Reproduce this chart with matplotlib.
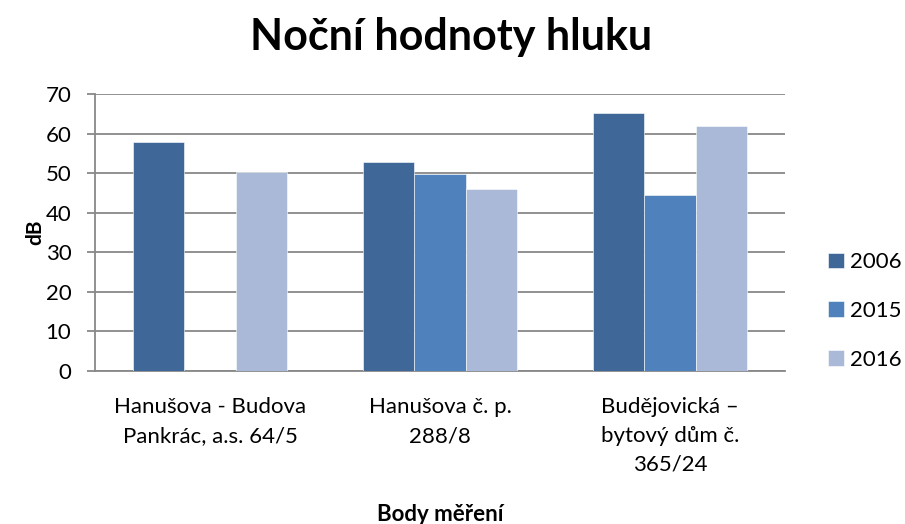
import numpy as np
import matplotlib.pyplot as plt

plt.rcParams['font.family'] = ['Lato', 'DejaVu Sans']

categories = ["Hanušova - Budova\nPankrác, a.s. 64/5",
              "Hanušova č. p.\n288/8",
              "Budějovická –\nbytový dům č.\n365/24"]
series = ["2006", "2015", "2016"]
v2006 = [57.8, 52.8, 65.1]
v2015 = [np.nan, 49.9, 44.4]
v2016 = [50.4, 46.1, 61.8]
colors = ["#3F6899", "#4F81BD", "#AAB9D7"]

fig = plt.figure(figsize=(9.05, 5.24), dpi=100)
ax = fig.add_axes([0.105, 0.292, 0.7624, 0.5286])

x = np.arange(len(categories))
w = 0.222
for i, (vals, lab) in enumerate(zip([v2006, v2015, v2016], series)):
    ax.bar(x + (i - 1) * w, vals, width=w, color=colors[i], label=lab,
           edgecolor="white", linewidth=0.4, zorder=3)

ax.set_xlim(-0.5, 2.5)
ax.set_ylim(0, 70)
ax.set_yticks(range(0, 71, 10))
ax.yaxis.grid(True, color="#888888", linewidth=1.3, zorder=0)
ax.set_xticks(x)
ax.set_xticklabels(categories, fontsize=16, linespacing=1.55)
ax.tick_params(axis="x", length=0, pad=19)
ax.tick_params(axis="y", labelsize=16, length=6, width=1.3, color="#888888", pad=11)
for s in ["top", "right"]:
    ax.spines[s].set_visible(False)
for s in ["left", "bottom"]:
    ax.spines[s].set_color("#888888")
    ax.spines[s].set_linewidth(1.3)

fig.text(0.039, 0.556, "dB", fontsize=15, fontweight="bold", rotation=90,
         ha="center", va="center")
fig.text(0.486, 0.018, "Body měření", fontsize=16, fontweight="bold",
         ha="center", va="center")
fig.text(0.498, 0.93, "Noční hodnoty hluku", fontsize=31, fontweight="bold",
         ha="center", va="center")

ax.legend(loc="center left", bbox_to_anchor=(828 / 905, 1 - 311 / 524),
          bbox_transform=fig.transFigure, frameon=False, borderpad=0,
          borderaxespad=0, fontsize=16, handlelength=0.7, handleheight=0.7,
          labelspacing=1.3, handletextpad=0.3)

fig.savefig("out.png", dpi=100)
